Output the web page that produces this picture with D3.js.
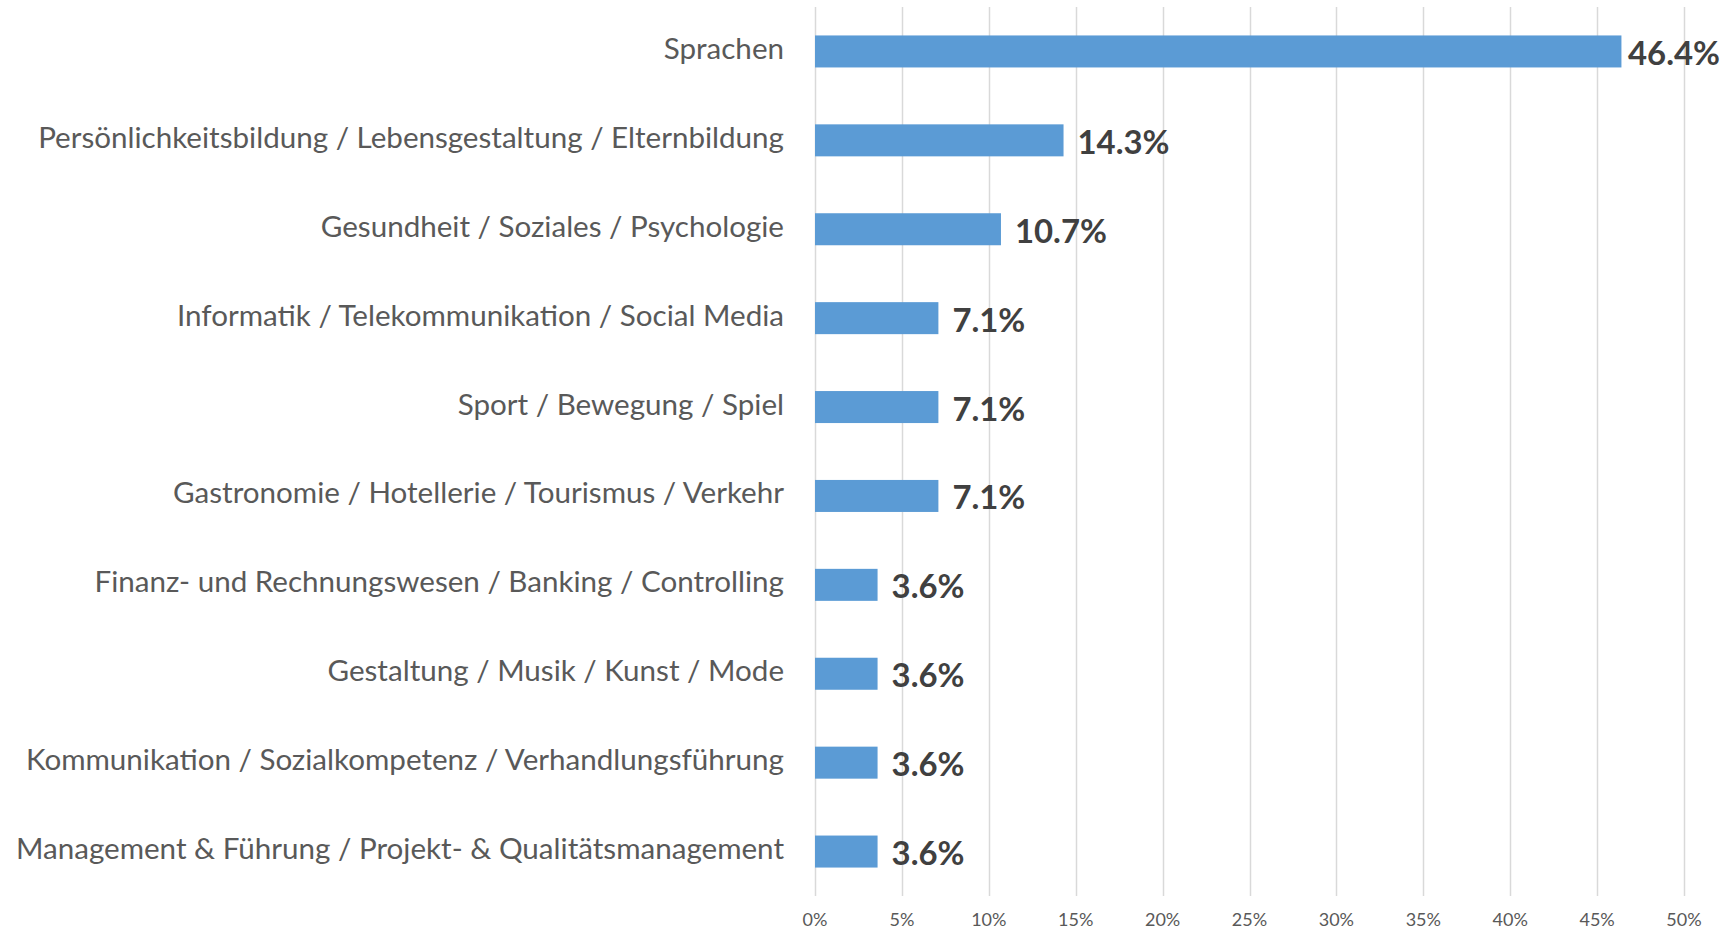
<!DOCTYPE html>
<html>
<head>
<meta charset="utf-8">
<script src="https://cdn.jsdelivr.net/npm/d3@7"></script>
<style>
  body { margin: 0; background: #fff; }
  svg text { font-family: Lato, "Open Sans", sans-serif; }
</style>
</head>
<body>
<div id="chart"></div>
<script>
const categories = [
  "Sprachen",
  "Persönlichkeitsbildung / Lebensgestaltung / Elternbildung",
  "Gesundheit / Soziales / Psychologie",
  "Informatik / Telekommunikation / Social Media",
  "Sport / Bewegung / Spiel",
  "Gastronomie / Hotellerie / Tourismus / Verkehr",
  "Finanz- und Rechnungswesen / Banking / Controlling",
  "Gestaltung / Musik / Kunst / Mode",
  "Kommunikation / Sozialkompetenz / Verhandlungsführung",
  "Management & Führung / Projekt- & Qualitätsmanagement"
];
const shares = [0.464, 0.143, 0.107, 0.071, 0.071, 0.071, 0.036, 0.036, 0.036, 0.036];
const tickValues = [0, 0.05, 0.1, 0.15, 0.2, 0.25, 0.3, 0.35, 0.4, 0.45, 0.5];

const width = 1735, height = 931;
const plot = { left: 815, right: 1684, top: 7, bottom: 896 };

const x = d3.scaleLinear().domain([0, 0.5]).range([plot.left, plot.right]);
const y = d3.scaleBand().domain(categories).range([plot.top, plot.bottom])
  .paddingInner(0.64).paddingOuter(0.32);

const svg = d3.select("#chart").append("svg")
  .attr("width", width).attr("height", height);

// grid
svg.append("g").attr("class", "grid")
  .selectAll("line").data(tickValues).enter().append("line")
  .attr("x1", d => Math.round(x(d)) + 0.5).attr("x2", d => Math.round(x(d)) + 0.5)
  .attr("y1", plot.top).attr("y2", plot.bottom)
  .attr("stroke", "#d9d9d9").attr("stroke-width", 1.5);

// tick labels
const fmt = d3.format(".0%");
svg.append("g").attr("class", "ticks")
  .selectAll("text").data(tickValues).enter().append("text")
  .attr("x", d => x(d)).attr("y", 926)
  .attr("text-anchor", "middle")
  .attr("font-size", "18px").attr("fill", "#595959")
  .text(d => fmt(d));

// bars
svg.append("g").attr("class", "bars")
  .selectAll("rect").data(shares).enter().append("rect")
  .attr("x", x(0)).attr("y", (d, i) => y(categories[i]))
  .attr("width", d => x(d) - x(0)).attr("height", y.bandwidth())
  .attr("fill", "#5b9bd5");

// category labels
const catLabels = svg.append("g").attr("class", "cats")
  .selectAll("text").data(categories).enter().append("text")
  .attr("x", 784).attr("y", d => y(d) + y.bandwidth() / 2 - 4)
  .attr("text-anchor", "end").attr("dominant-baseline", "central")
  .attr("font-size", "27px").attr("fill", "#595959")
  .text(d => d);

// fit font size to the reference width of the longest label
let longest = catLabels.filter((d, i) => i === categories.length - 1).node();
let w = longest.getComputedTextLength();
catLabels.attr("font-size", (27 * 768 / w).toFixed(2) + "px");

// value labels
const valFmt = d3.format(".1%");
const vals = svg.append("g").attr("class", "vals")
  .selectAll("text").data(shares).enter().append("text")
  .attr("y", (d, i) => y(categories[i]) + y.bandwidth() / 2 + 1)
  .attr("dominant-baseline", "central")
  .attr("font-size", "30px").attr("font-weight", "bold").attr("fill", "#404040")
  .text(d => valFmt(d));
let w2 = vals.filter((d, i) => i === 0).node().getComputedTextLength();
vals.attr("font-size", (30 * 92 / w2).toFixed(2) + "px");
// keep labels inside the right edge, like the reference does for the longest bar
vals.attr("x", function (d) {
  const tw = this.getComputedTextLength();
  return Math.min(x(d) + 14, 1720 - tw);
});
</script>
</body>
</html>
